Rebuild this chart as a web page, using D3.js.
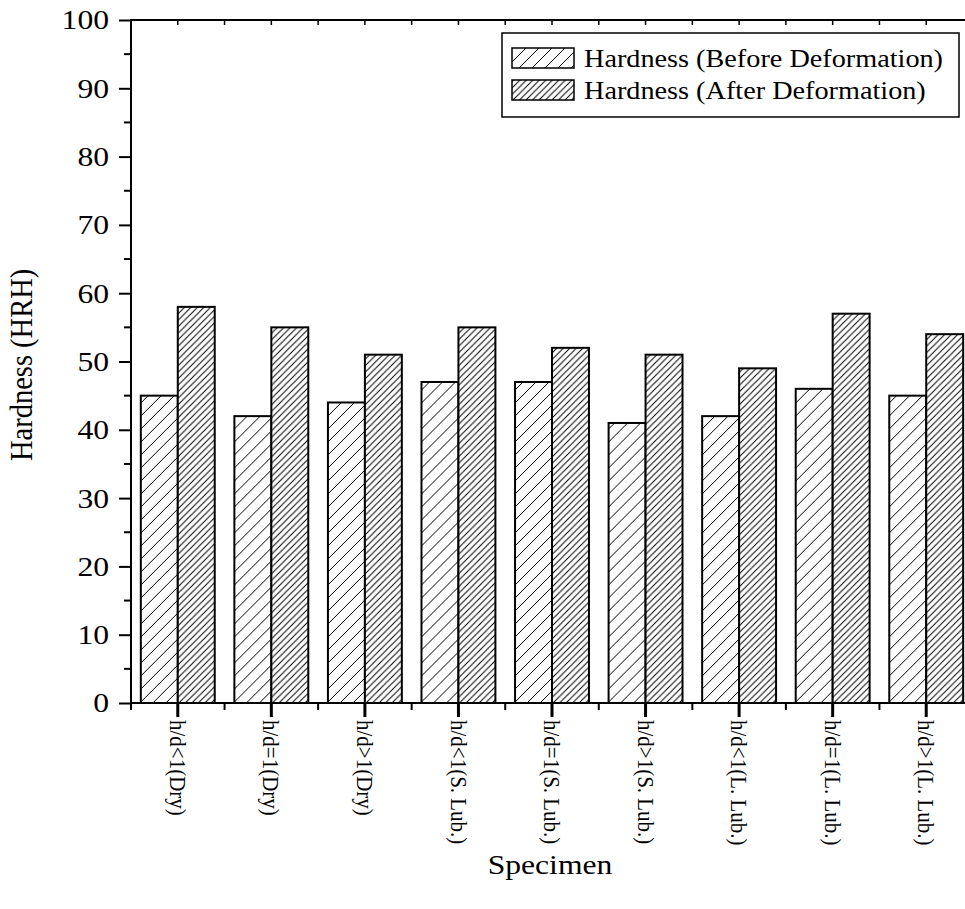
<!DOCTYPE html>
<html>
<head>
<meta charset="utf-8">
<script src="https://cdn.jsdelivr.net/npm/d3@7"></script>
<style>
  body { margin: 0; background: #fff; }
  svg { display: block; font-family: "Liberation Serif", "Times New Roman", serif; }
</style>
</head>
<body>
<svg id="chart" width="965" height="909"></svg>
<script>
const categories = ['h/d<1(Dry)', 'h/d=1(Dry)', 'h/d>1(Dry)', 'h/d<1(S. Lub.)', 'h/d=1(S. Lub.)',
  'h/d>1(S. Lub.)', 'h/d<1(L. Lub.)', 'h/d=1(L. Lub.)', 'h/d>1(L. Lub.)'];
const seriesNames = ['Hardness (Before Deformation)', 'Hardness (After Deformation)'];
const beforeValues = [45, 42, 44, 47, 47, 41, 42, 46, 45];
const afterValues = [58, 55, 51, 55, 52, 51, 49, 57, 54];
const yTicks = [0, 10, 20, 30, 40, 50, 60, 70, 80, 90, 100];

const svg = d3.select('#chart');
const margin = { left: 131, top: 20, bottom: 703 };
const plotRight = 973;
const sx = 1.13; // the text in the original looks a bit wide

const x = d3.scaleBand().domain(categories).range([margin.left, plotRight]).paddingInner(0.21).paddingOuter(0.105);
const step = x.step();
const xs = d3.scaleBand().domain([0, 1]).range([0, x.bandwidth()]);
const y = d3.scaleLinear().domain([0, 100]).range([margin.bottom, margin.top]);

// hatch patterns
const defs = svg.append('defs');
function hatch(id, gap) {
  const p = defs.append('pattern').attr('id', id).attr('patternUnits', 'userSpaceOnUse')
    .attr('width', gap).attr('height', gap);
  p.append('rect').attr('width', gap).attr('height', gap).attr('fill', '#fff');
  p.append('path').attr('d', `M0,${gap} L${gap},0 M${-gap / 2},${gap / 2} L${gap / 2},${-gap / 2} M${gap / 2},${gap * 1.5} L${gap * 1.5},${gap / 2}`)
    .attr('stroke', '#000').attr('stroke-width', 1);
}
hatch('hBefore', 13);
hatch('hAfter', 6.5);
const fills = ['url(#hBefore)', 'url(#hAfter)'];

const rows = categories.map((c, i) => ({ c, v: [beforeValues[i], afterValues[i]] }));

const groups = svg.append('g').selectAll('g').data(rows).join('g')
  .attr('transform', d => `translate(${x(d.c)},0)`);
groups.selectAll('rect').data(d => d.v.map((v, k) => ({ v, k }))).join('rect')
  .attr('x', d => xs(d.k))
  .attr('y', d => y(d.v))
  .attr('width', xs.bandwidth())
  .attr('height', d => y(0) - y(d.v))
  .attr('fill', d => fills[d.k])
  .attr('stroke', '#000').attr('stroke-width', 2);

// y axis
const yAxis = svg.append('g').attr('transform', `translate(${margin.left},0)`)
  .call(d3.axisLeft(y).tickValues(yTicks).tickSize(12).tickPadding(10));
yAxis.select('.domain').remove();
yAxis.selectAll('.tick line').attr('stroke-width', 2);
yAxis.selectAll('.tick text').attr('font-size', 28).attr('font-family', '"Liberation Serif", serif')
  .attr('fill', '#000').attr('x', -22 / sx).attr('transform', `scale(${sx},1)`);
yAxis.selectAll('.minor').data(d3.range(5, 100, 10)).join('line').attr('class', 'minor')
  .attr('x1', -7).attr('x2', 0).attr('y1', d => y(d)).attr('y2', d => y(d))
  .attr('stroke', '#000').attr('stroke-width', 2);
svg.append('line').attr('x1', margin.left).attr('x2', margin.left)
  .attr('y1', margin.top - 1).attr('y2', margin.bottom + 1).attr('stroke', '#000').attr('stroke-width', 2);

// x axis
const xAxis = svg.append('g').attr('transform', `translate(0,${margin.bottom})`);
xAxis.append('line').attr('x1', margin.left - 1).attr('x2', plotRight).attr('stroke', '#000').attr('stroke-width', 2);
xAxis.selectAll('.major').data(categories).join('line').attr('class', 'major')
  .attr('x1', d => x(d) + x.bandwidth() / 2).attr('x2', d => x(d) + x.bandwidth() / 2)
  .attr('y1', 0).attr('y2', 14).attr('stroke', '#000').attr('stroke-width', 3);
xAxis.selectAll('.minor').data(d3.range(categories.length + 1)).join('line').attr('class', 'minor')
  .attr('x1', i => margin.left + i * step).attr('x2', i => margin.left + i * step)
  .attr('y1', 0).attr('y2', 7).attr('stroke', '#000').attr('stroke-width', 2);
xAxis.selectAll('.lbl').data(categories).join('text').attr('class', 'lbl')
  .attr('transform', d => `translate(${x(d) + x.bandwidth() / 2},${17}) rotate(90) scale(1,${sx})`)
  .attr('dy', '0.33em').attr('font-size', 21).attr('text-anchor', 'start')
  .text(d => d);

// top axis
const topAxis = svg.append('g').attr('transform', `translate(0,${margin.top})`);
topAxis.append('line').attr('x1', margin.left - 1).attr('x2', plotRight).attr('stroke', '#000').attr('stroke-width', 2);
topAxis.selectAll('.tk').data(d3.range(categories.length * 2 + 1)).join('line').attr('class', 'tk')
  .attr('x1', i => margin.left + i * step / 2).attr('x2', i => margin.left + i * step / 2)
  .attr('y1', 0).attr('y2', 5).attr('stroke', '#000').attr('stroke-width', 1.5);

// axis titles
svg.append('text').attr('transform', `translate(32,${y(49.5)}) rotate(-90) scale(1,${sx})`)
  .attr('text-anchor', 'middle').attr('font-size', 28.5).text('Hardness (HRH)');
svg.append('text').attr('transform', `translate(550,874) scale(${sx},1)`)
  .attr('text-anchor', 'middle').attr('font-size', 28).text('Specimen');

// legend
const lg = svg.append('g').attr('transform', 'translate(502,33)');
lg.append('rect').attr('width', 457).attr('height', 84).attr('fill', '#fff')
  .attr('stroke', '#000').attr('stroke-width', 1.5);
seriesNames.forEach((name, k) => {
  lg.append('rect').attr('x', 10).attr('y', 15 + k * 32).attr('width', 62).attr('height', 20)
    .attr('fill', fills[k]).attr('stroke', '#000').attr('stroke-width', 1.5);
  lg.append('text').attr('transform', `translate(82,${34 + k * 32}) scale(${sx},1)`)
    .attr('font-size', 25).text(name);
});
</script>
</body>
</html>
